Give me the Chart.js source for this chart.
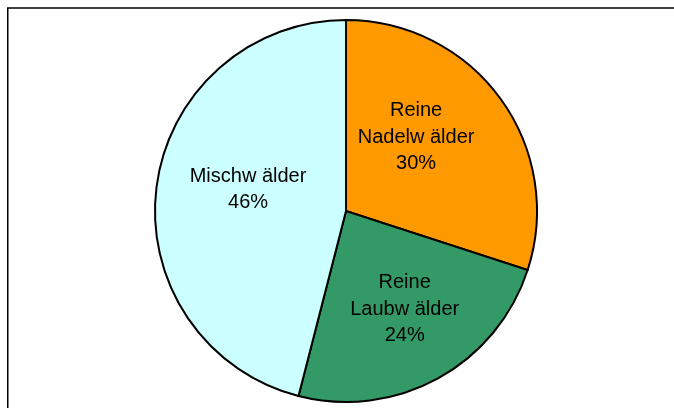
<!DOCTYPE html>
<html>
<head>
<meta charset="utf-8">
<script src="https://cdn.jsdelivr.net/npm/chart.js@4"></script>
<style>
  html, body { margin: 0; padding: 0; background: #ffffff; }
  #wrap { width: 674px; height: 408px; position: relative; }
</style>
</head>
<body>
<div id="wrap"><canvas id="c" width="674" height="408"></canvas></div>
<script>
// Data
const categories = ["Reine Nadelw älder", "Reine Laubw älder", "Mischw älder"];
const labelLines = [["Reine", "Nadelw älder"], ["Reine", "Laubw älder"], ["Mischw älder"]];
const shares = [30, 24, 46];
const sliceColors = ["#FF9900", "#339966", "#CCFFFF"];

// Frame plugin (partial chart-area border visible in the reference)
const framePlugin = {
  id: 'frame',
  beforeDraw(chart) {
    const ctx = chart.ctx;
    ctx.save();
    ctx.fillStyle = '#ffffff';
    ctx.fillRect(0, 0, chart.width, chart.height);
    ctx.strokeStyle = '#000000';
    ctx.lineWidth = 1.5;
    ctx.beginPath();
    ctx.moveTo(7.75, chart.height + 2);
    ctx.lineTo(7.75, 8);
    ctx.lineTo(chart.width + 2, 8);
    ctx.stroke();
    ctx.restore();
  }
};

// Label plugin: text placed inside slices
const labelPlugin = {
  id: 'sliceLabels',
  afterDatasetsDraw(chart) {
    const ctx = chart.ctx;
    const meta = chart.getDatasetMeta(0);
    // per-slice angular shift (deg) and radius fraction, to match reference placement
    const tweak = [{da: -10.4, rf: 0.532}, {da: -2.0, rf: 0.60}, {da: 5.1, rf: 0.525}];
    ctx.save();
    ctx.fillStyle = '#000000';
    ctx.font = '20px "Liberation Sans", Arial, sans-serif';
    ctx.textAlign = 'center';
    ctx.textBaseline = 'middle';
    meta.data.forEach((arc, i) => {
      const p = arc.getProps(['x', 'y', 'startAngle', 'endAngle', 'outerRadius'], true);
      const mid = (p.startAngle + p.endAngle) / 2 + tweak[i].da * Math.PI / 180;
      const r = p.outerRadius * tweak[i].rf;
      const cx = p.x + Math.cos(mid) * r;
      const cy = p.y + Math.sin(mid) * r;
      const lines = labelLines[i].concat([shares[i] + '%']);
      const lh = 26.5;
      const y0 = cy - (lines.length - 1) * lh / 2;
      lines.forEach((t, k) => ctx.fillText(t, cx, y0 + k * lh));
    });
    ctx.restore();
  }
};

new Chart(document.getElementById('c'), {
  type: 'pie',
  data: {
    labels: categories,
    datasets: [{
      data: shares,
      backgroundColor: sliceColors,
      borderColor: '#000000',
      borderWidth: 2,
      borderJoinStyle: 'miter'
    }]
  },
  options: {
    responsive: false,
    animation: false,
    rotation: 0,
    layout: { padding: { left: 18, right: 0, top: 19, bottom: 5 } },
    plugins: {
      legend: { display: false },
      tooltip: { enabled: false }
    }
  },
  plugins: [framePlugin, labelPlugin]
});
</script>
</body>
</html>
